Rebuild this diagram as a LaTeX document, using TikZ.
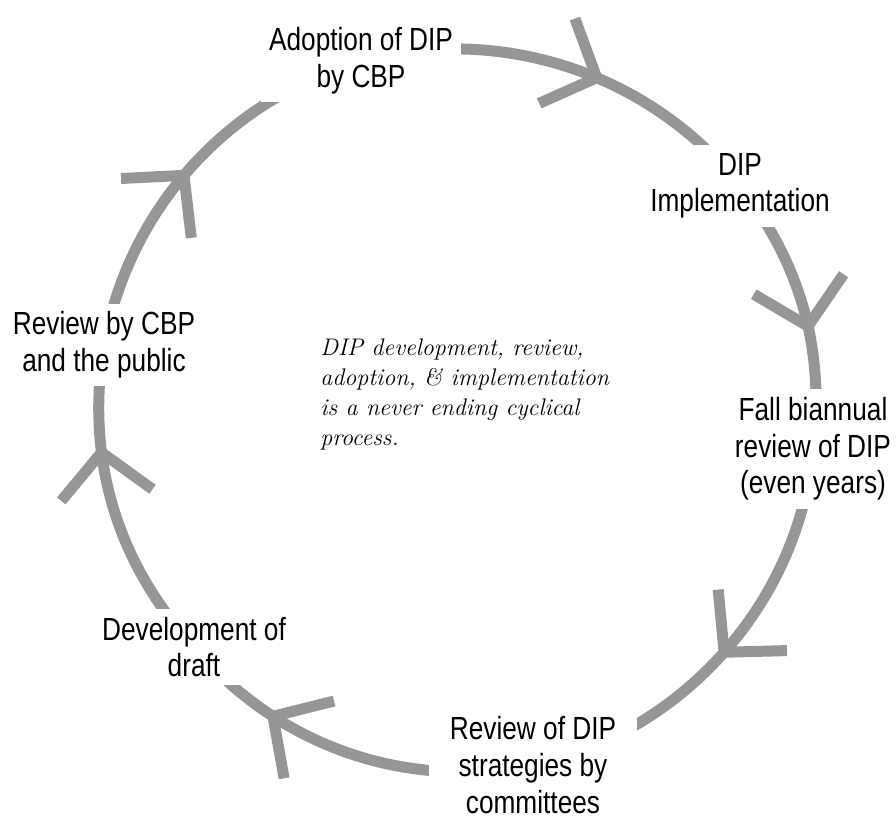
\documentclass[tikz,border=0pt]{standalone}
\usepackage{fontspec}
\usepackage{tikz}
\usetikzlibrary{decorations.markings,backgrounds}
\newfontfamily\labelfont[FakeStretch=0.82]{Liberation Sans}
\definecolor{cyclegray}{HTML}{969696}
\tikzset{
  stage/.style={align=center, fill=white, inner sep=4pt, font={\labelfont\fontsize{16}{18.3}\selectfont}},
  cyclenote/.style={align=left, inner sep=0pt, font={\fontsize{12}{15}\selectfont\itshape}},
  cyc/.style={draw=cyclegray, line width=5.5pt, looseness=0.93, postaction={decorate},
              decoration={markings, mark=at position #1 with
                {\draw[cyclegray, line width=5.5pt] (-43,46) -- (0,0) -- (-43,-46);}}},
}
\begin{document}
\begin{tikzpicture}[x=0.5pt, y=0.5pt]
  \useasboundingbox (0,0) rectangle (896,819);
  \node[stage] (adopt) at (361,758) {Adoption of DIP\\by CBP};
  \node[stage] (impl) at (740,633) {DIP\\Implementation};
  \node[stage] (fall) at (813,370) {Fall biannual\\review of DIP\\(even years)};
  \node[stage, minimum width=104pt] (cttee) at (533,54) {Review of DIP\\strategies by\\committees};
  \node[stage] (draft) at (194,172) {Development of\\draft};
  \node[stage] (pub) at (104,474) {Review by CBP\\and the public};
  \node[cyclenote, anchor=west] (msg) at (320,424)
    {DIP development, review,\\adoption, \& implementation\\is a never ending cyclical\\process.};
  % the cycle, clockwise, hidden under the labels
  \begin{scope}[on background layer]
    \draw[cyc=0.57] (adopt.center) to[bend left=33] (impl.center);
    \draw[cyc=0.56] (impl.center) to[bend left=22.5] (fall.center);
    \draw[cyc=0.50] (fall.center) to[bend left=36.4] (cttee.center);
    \draw[cyc=0.72] (cttee.center) to[bend left=30.3] (draft.center);
    \draw[cyc=0.67] (draft.center) to[bend left=26] (pub.center);
    \draw[cyc=0.47] (pub.center) to[bend left=31.6] (adopt.center);
  \end{scope}
\end{tikzpicture}
\end{document}
